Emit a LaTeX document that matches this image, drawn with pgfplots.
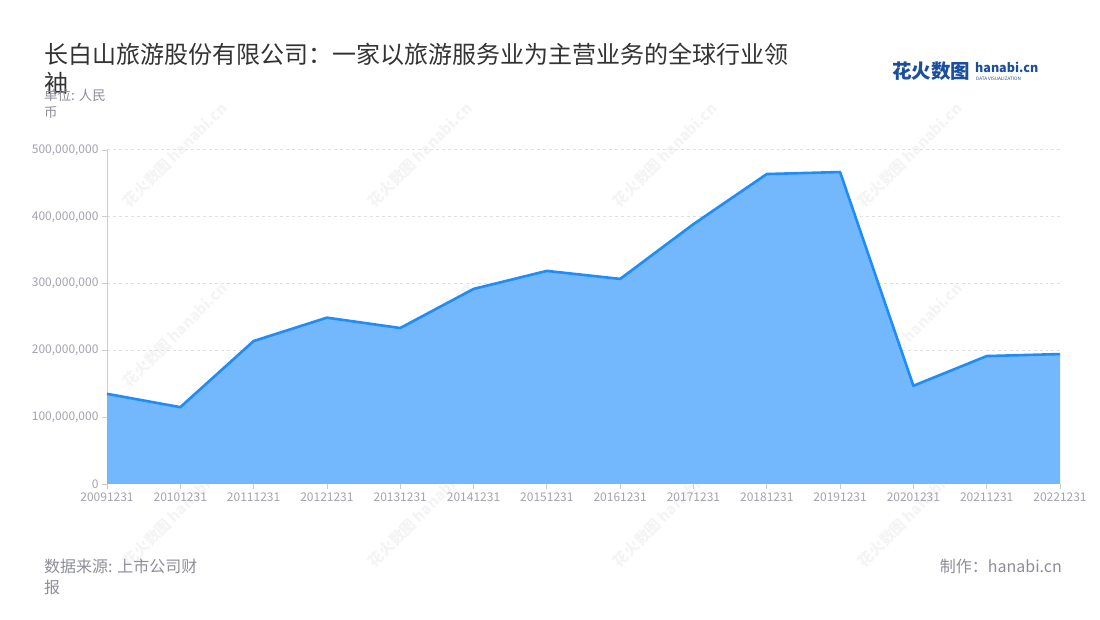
\documentclass[border=0pt]{standalone}
\usepackage{fontspec}
\setmainfont{Noto Sans CJK SC}
\usepackage{pgfplots}
\pgfplotsset{compat=1.18}
\definecolor{linec}{HTML}{1E8CFA}
\definecolor{fillc}{HTML}{73B8FD}
\definecolor{tickc}{HTML}{A3A3AE}
\definecolor{axc}{HTML}{CCCCCC}
\definecolor{gridc}{HTML}{E0E0E0}
\definecolor{titlec}{HTML}{333333}
\definecolor{subc}{HTML}{8E8E9A}
\definecolor{logoc}{HTML}{1B4F9C}
\begin{document}
\begin{tikzpicture}[x=1bp,y=1bp]
\useasboundingbox[fill=white] (0,0) rectangle (1100,620);
% watermarks
\foreach \wx in {160,405,650,895}{
  \foreach \wy in {450,270,90}{
    \node[rotate=45, text=black, opacity=0.045, font=\fontsize{15bp}{16bp}\selectfont\bfseries, inner sep=0] at (\wx+15,\wy+15) {花火数图 hanabi.cn};
  }
}
\begin{axis}[
  at={(107bp,136bp)}, anchor=south west,
  width=953bp, height=334bp, scale only axis,
  xmin=0, xmax=13, ymin=0, ymax=500000000,
  axis x line*=bottom, axis y line*=left,
  axis line style={axc, line width=1bp},
  xtick={0,...,13},
  xticklabels={20091231,20101231,20111231,20121231,20131231,20141231,20151231,20161231,20171231,20181231,20191231,20201231,20211231,20221231},
  ytick={0,100000000,200000000,300000000,400000000,500000000},
  scaled y ticks=false,
  tick align=outside, major tick length=5bp,
  tick style={axc, line width=0.8bp},
  ymajorgrids, grid style={gridc, dashed, line width=1bp},
  tick label style={text=tickc, font=\fontsize{12bp}{14bp}\selectfont},
  /pgf/number format/assume math mode=true,
  /pgf/number format/fixed,
  /pgf/number format/1000 sep={,},
  clip=false,
]
\addplot[fill=fillc, draw=none] coordinates {
(0,135000000) (1,115000000) (2,214000000) (3,249000000) (4,233500000) (5,292000000) (6,319000000) (7,307000000) (8,389000000) (9,464000000) (10,467000000) (11,147000000) (12,191500000) (13,194500000)
} \closedcycle;
\addplot[linec, line width=2.6bp, line join=round] coordinates {
(0,135000000) (1,115000000) (2,214000000) (3,249000000) (4,233500000) (5,292000000) (6,319000000) (7,307000000) (8,389000000) (9,464000000) (10,467000000) (11,147000000) (12,191500000) (13,194500000)
};
\end{axis}
% title
\node[anchor=base west, inner sep=0, text=titlec, font=\fontsize{24bp}{26bp}\selectfont] at (44,556) {长白山旅游股份有限公司：一家以旅游服务业为主营业务的全球行业领};
\node[anchor=base west, inner sep=0, text=titlec, font=\fontsize{24bp}{26bp}\selectfont] at (44,527) {袖};
\node[anchor=base west, inner sep=0, text=subc, font=\fontsize{13.5bp}{16bp}\selectfont] at (44,519) {单位: 人民};
\node[anchor=base west, inner sep=0, text=subc, font=\fontsize{13.5bp}{16bp}\selectfont] at (44,502) {币};
% logo
\node[anchor=base west, inner sep=0, text=logoc, font=\fontsize{19.5bp}{22bp}\selectfont\bfseries] at (892,541) {花火数图};
\node[anchor=base west, inner sep=0, text=logoc, font=\fontsize{12.5bp}{14bp}\selectfont\bfseries] at (975,547) {hanabi.cn};
\node[anchor=base west, inner sep=0, text=logoc, font=\fontsize{4.6bp}{5bp}\selectfont] at (976,539) {DATA VISUALIZATION};
% footer
\node[anchor=base west, inner sep=0, text=subc, font=\fontsize{16bp}{18bp}\selectfont] at (44,47) {数据来源: 上市公司财};
\node[anchor=base west, inner sep=0, text=subc, font=\fontsize{16bp}{18bp}\selectfont] at (44,26) {报};
\node[anchor=base east, inner sep=0, text=subc, font=\fontsize{16bp}{18bp}\selectfont] at (1062,47) {制作：hanabi.cn};
\end{tikzpicture}
\end{document}
